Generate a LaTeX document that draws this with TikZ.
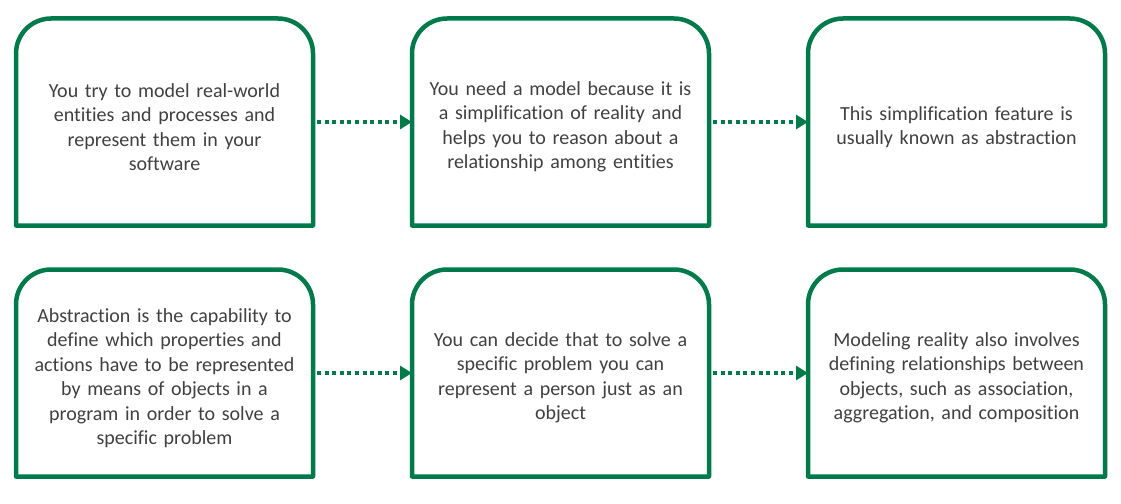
\documentclass[tikz,border=0pt]{standalone}
\usepackage{fontspec}
\setmainfont{Carlito}[Ligatures=NoCommon]
\usepackage{xcolor}
\usetikzlibrary{positioning,arrows.meta}
\definecolor{boxgreen}{RGB}{0,122,74}
\definecolor{textgrey}{RGB}{64,64,64}

\begin{document}
\begin{tikzpicture}[
		x=1pt, y=1pt,
		node distance=99pt,
		step box/.style = {minimum width=297pt, minimum height=207pt, outer sep=0pt, inner sep=0pt},
		step text/.style = {inner sep=0pt, text width=280pt, align=center, text=textgrey,
			font=\fontsize{20pt}{24.5pt}\selectfont},
		box line/.style = {draw=boxgreen, line width=4.5pt, line join=round},
		flow/.style = {draw=boxgreen, line width=4pt, dash pattern=on 4pt off 3.6pt,
			-{Triangle[length=12pt, width=14pt]}}
	]
		\useasboundingbox (0,0) rectangle (1121,-503);
		% top row
		\node[step box] (b1) at (164.5,-122) {};
		\node[step box, right=of b1] (b2) {};
		\node[step box, right=of b2] (b3) {};
		% bottom row
		\node[step box, below=44pt of b1] (b4) {};
		\node[step box, right=of b4] (b5) {};
		\node[step box, right=of b5] (b6) {};
		% frames, rounded at the top only
		\foreach \n in {b1,b2,b3,b4,b5,b6}
			\draw[box line] (\n.south west) -- ([yshift=-35pt]\n.north west) arc[start angle=180, end angle=90, radius=35pt]
				-- ([xshift=-35pt]\n.north east) arc[start angle=90, end angle=0, radius=35pt] -- (\n.south east) -- cycle;
		% texts
		\node[step text] (t1) at ([yshift=-5pt]b1) {You try to model real-world\\ entities and processes and\\ represent them in your\\ software};
		\node[step text] (t2) at ([yshift=-5pt]b2) {You need a model because it is\\ a simplification of reality and\\ helps you to reason about a\\ relationship among entities};
		\node[step text] (t3) at ([yshift=-5pt]b3) {This simplification feature is\\ usually known as abstraction};
		\node[step text] (t4) at ([yshift=-5pt]b4) {Abstraction is the capability to\\ define which properties and\\ actions have to be represented\\ by means of objects in a\\ program in order to solve a\\ specific problem};
		\node[step text] (t5) at ([yshift=-5pt]b5) {You can decide that to solve a\\ specific problem you can\\ represent a person just as an\\ object};
		\node[step text] (t6) at ([yshift=-5pt]b6) {Modeling reality also involves\\ defining relationships between\\ objects, such as association,\\ aggregation, and composition};
		% arrows
		\draw[flow] ([xshift=4pt]b1.east) -- (b2.west);
		\draw[flow] ([xshift=4pt]b2.east) -- (b3.west);
		\draw[flow] ([xshift=4pt]b4.east) -- (b5.west);
		\draw[flow] ([xshift=4pt]b5.east) -- (b6.west);
	\end{tikzpicture}
\end{document}
